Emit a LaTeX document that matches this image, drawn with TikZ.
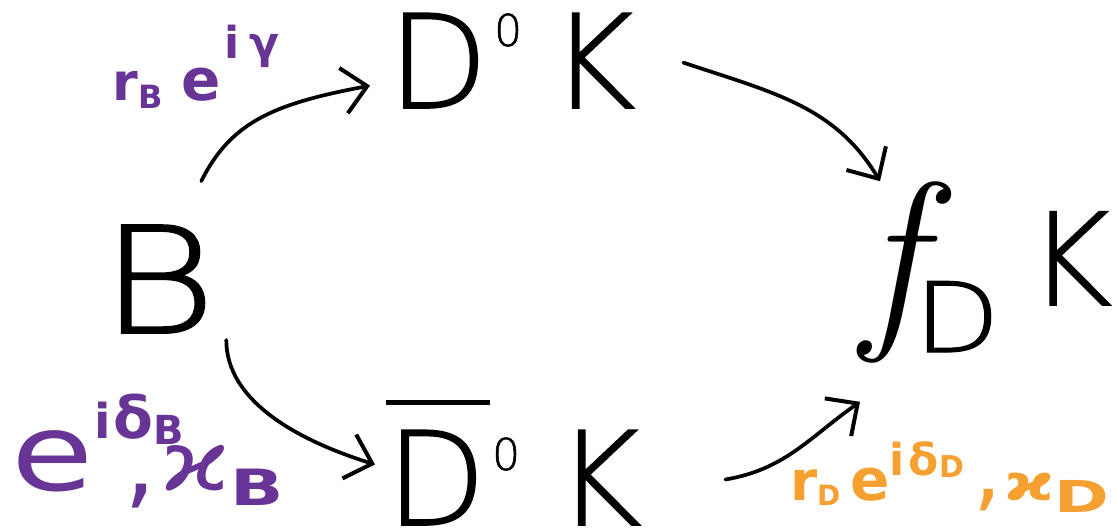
\documentclass[tikz,border=0pt]{standalone}
\usepackage{graphicx}
\usepackage{fontspec}
\setmainfont{DejaVu Sans}
\newfontfamily\thin{DejaVuSans-ExtraLight.ttf}[FakeBold=1.2]
\newfontfamily\lmr{Latin Modern Roman}
\usetikzlibrary{arrows.meta}
\definecolor{inkpurple}{RGB}{104,52,150}
\definecolor{inkorange}{RGB}{245,160,48}
\newcommand{\fsz}[1]{\fontsize{#1}{#1}\selectfont}
\newcommand{\wide}[2][1.25]{\scalebox{#1}[1]{#2}}
\begin{document}
\begin{tikzpicture}[x=1pt,y=-1pt,
  species/.style={anchor=base west, inner sep=0pt, outer sep=0pt, font=\thin},
  amp/.style={anchor=base west, inner sep=0pt, outer sep=0pt, font=\bfseries},
  arr/.style={line width=3.7pt, line cap=round,
    -{Straight Barb[length=24pt,width=46pt,line width=4pt]}}]
\useasboundingbox (0,0) rectangle (1118,531);

% particle states
\node[species] (B) at (100,333) {\fsz{148}\wide[1.2]{B}};
\node[species] (DK) at (388,108)
  {\fsz{130}D\kern6pt\raisebox{62pt}{\fsz{44}0}\kern28pt K};
\node[species] (DbK) at (386,525)
  {\fsz{130}\rlap{\raisebox{120pt}{\rule{104pt}{5pt}}}D\kern6pt\raisebox{55pt}{\fsz{44}0}\kern36pt K};
\node[species] (fDK) at (862,322)
  {{\lmr\itshape\fsz{200}f}\kern-8pt\raisebox{-30pt}{\fsz{97}\wide[1.15]{D}}\kern28pt\raisebox{17pt}{\fsz{128}K}};

% amplitudes
\node[amp, text=inkpurple] (ampB) at (112,100)
  {\fsz{52}r\kern1pt\raisebox{-8pt}{\fsz{32}B}\kern18pt{\fsz{58}e}\kern4pt\raisebox{42pt}{\fsz{44}i\kern10ptγ}};
\node[amp, text=inkpurple] (strB) at (12,490)
  {{\mdseries\fsz{107}\wide{e}}\rlap{\raisebox{52pt}{\fsz{48}i\kern3pt{\fsz{58}δ}\raisebox{-6pt}{\fsz{40}B}}}\kern30pt\raisebox{-6pt}{\mdseries\fsz{100},}\kern4pt{\mdseries\fsz{82}\wide[1.3]{ϰ}}\raisebox{-15pt}{\fsz{50}\wide[1.4]{B}}};
\node[amp, text=inkorange] (ampD) at (790,500)
  {{\fsz{55}r}\raisebox{-5pt}{\fsz{28}D}\kern10pt{\fsz{58}e}\raisebox{25pt}{\fsz{44}i\kern4ptδ\raisebox{-2pt}{\fsz{30}D}}\kern10pt{\mdseries\fsz{90},}\kern2pt{\fsz{50}\wide[1.35]{ϰ}}\raisebox{-12pt}{\fsz{44}\wide[1.5]{D}}};

% transitions
\draw[arr] ([shift={(-15,-44)}]B.north east) .. controls +(30,-60) and +(-95,18) .. ([shift={(-18,25)}]DK.west);
\draw[arr] ([shift={(48,2)}]DK.east) .. controls +(90,30) and +(-45,-75) .. ([shift={(18,0)}]fDK.north west);
\draw[arr] ([shift={(10,7)}]B.south east) .. controls +(0,60) and +(-80,-25) .. ([shift={(-11,2)}]DbK.west);
\draw[arr] ([shift={(84,17)}]DbK.east) .. controls +(60,-10) and +(-50,35) .. ([shift={(-2,39)}]fDK.south west);
\end{tikzpicture}
\end{document}
